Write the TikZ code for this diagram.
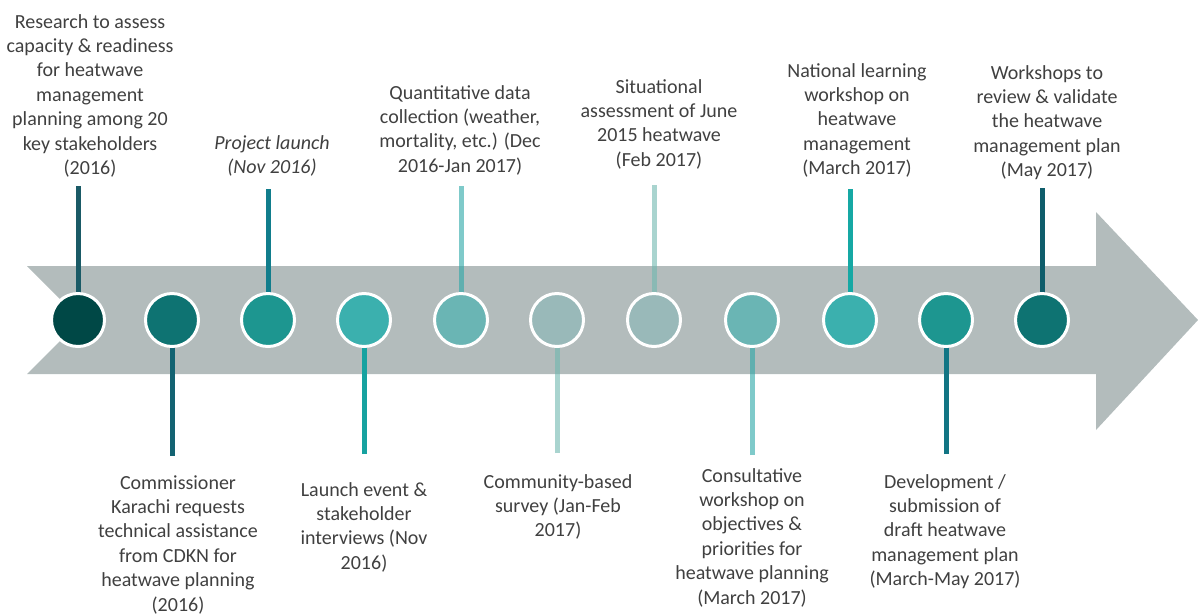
\documentclass[tikz,border=0pt]{standalone}
\usepackage{fontspec}
\setmainfont{Carlito}
\definecolor{band}{RGB}{179,188,188}
\definecolor{txt}{RGB}{64,64,64}
\definecolor{f1}{RGB}{0,72,70}
\definecolor{f2}{RGB}{14,115,114}
\definecolor{f3}{RGB}{29,150,144}
\definecolor{f4}{RGB}{59,176,174}
\definecolor{f5}{RGB}{106,181,180}
\definecolor{f6}{RGB}{153,185,185}
\definecolor{l1}{RGB}{26,90,102}
\definecolor{l2}{RGB}{19,99,114}
\definecolor{l3}{RGB}{17,125,140}
\definecolor{l4}{RGB}{22,162,160}
\definecolor{l5}{RGB}{42,167,167}
\definecolor{l6}{RGB}{112,183,175}
\definecolor{l9}{RGB}{22,168,164}
\definecolor{l10}{RGB}{18,117,132}
\definecolor{l11}{RGB}{15,93,107}
\begin{document}
\begin{tikzpicture}[x=1pt,y=-1pt,
  lbl/.style={align=center, font=\fontsize{20}{24.4}\selectfont, text=txt, inner sep=0pt, anchor=base},
  dot/.style={circle, minimum size=53pt, inner sep=0pt, draw=white, line width=3pt},
  stem/.style={line width=5pt},
  soft/.style={stem, opacity=0.6}]
\path[use as bounding box] (0,0) rectangle (1198,614);
% arrow band
\fill[band] (27,266) -- (1096,266) -- (1096,212) -- (1198,320) -- (1096,430) -- (1096,374) -- (27,374) -- (81,320) -- cycle;
% end points of stems
\coordinate (e1) at (78,186);
\coordinate (e2) at (172,456);
\coordinate (e3) at (268,189);
\coordinate (e4) at (364,454);
\coordinate (e5) at (461,186);
\coordinate (e6) at (557,453);
\coordinate (e7) at (654,185);
\coordinate (e8) at (752,455);
\coordinate (e9) at (850,189);
\coordinate (e10) at (946,454);
\coordinate (e11) at (1042,188);
% circle positions
\coordinate (p1) at (78,320);
\coordinate (p2) at (172,320);
\coordinate (p3) at (268,320);
\coordinate (p4) at (364,320);
\coordinate (p5) at (461,320);
\coordinate (p6) at (557,320);
\coordinate (p7) at (654,320);
\coordinate (p8) at (752,320);
\coordinate (p9) at (850,320);
\coordinate (p10) at (946,320);
\coordinate (p11) at (1042,320);
% stems
\draw[stem, l1] (e1) -- (p1);
\draw[stem, l2] (e2) -- (p2);
\draw[stem, l3] (e3) -- (p3);
\draw[stem, l4] (e4) -- (p4);
\draw[soft, l5] (e5) -- (p5);
\draw[soft, l6] (e6) -- (p6);
\draw[soft, l6] (e7) -- (p7);
\draw[soft, l5] (e8) -- (p8);
\draw[stem, l9] (e9) -- (p9);
\draw[stem, l10] (e10) -- (p10);
\draw[stem, l11] (e11) -- (p11);
% circles
\node[dot, fill=f1] (c1) at (p1) {};
\node[dot, fill=f2] (c2) at (p2) {};
\node[dot, fill=f3] (c3) at (p3) {};
\node[dot, fill=f4] (c4) at (p4) {};
\node[dot, fill=f5] (c5) at (p5) {};
\node[dot, fill=f6] (c6) at (p6) {};
\node[dot, fill=f6] (c7) at (p7) {};
\node[dot, fill=f5] (c8) at (p8) {};
\node[dot, fill=f4] (c9) at (p9) {};
\node[dot, fill=f3] (c10) at (p10) {};
\node[dot, fill=f2] (c11) at (p11) {};
% labels above (positioned by the baseline of their last line)
\node[lbl] (t1) at (90,174.4) {Research to assess\\capacity \& readiness\\for heatwave\\management\\planning among 20\\key stakeholders\\(2016)};
\node[lbl, font=\fontsize{20}{24.4}\selectfont\itshape] (t3) at (272,173.4) {Project launch\\(Nov 2016)};
\node[lbl] (t5) at (460,172.2) {Quantitative data\\collection (weather,\\mortality, etc.) (Dec\\2016-Jan 2017)};
\node[lbl] (t7) at (659,166.2) {Situational\\assessment of June\\2015 heatwave\\(Feb 2017)};
\node[lbl] (t9) at (857,174.6) {National learning\\workshop on\\heatwave\\management\\(March 2017)};
\node[lbl] (t11) at (1047,176.6) {Workshops to\\review \& validate\\the heatwave\\management plan\\(May 2017)};
% labels below
\node[lbl] (t2) at (178,611) {Commissioner\\Karachi requests\\technical assistance\\from CDKN for\\heatwave planning\\(2016)};
\node[lbl] (t4) at (364,569.2) {Launch event \&\\stakeholder\\interviews (Nov\\2016)};
\node[lbl] (t6) at (558,536.8) {Community-based\\survey (Jan-Feb\\2017)};
\node[lbl] (t8) at (752,604) {Consultative\\workshop on\\objectives \&\\priorities for\\heatwave planning\\(March 2017)};
\node[lbl] (t10) at (945,585.6) {Development /\\submission of\\draft heatwave\\management plan\\(March-May 2017)};
\end{tikzpicture}
\end{document}
